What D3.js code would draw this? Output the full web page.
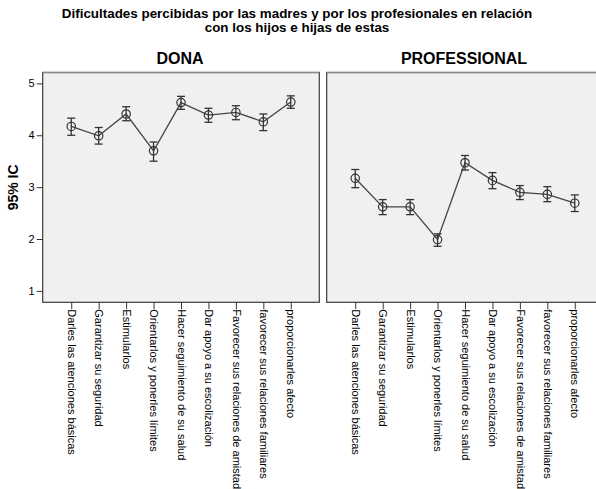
<!DOCTYPE html>
<html>
<head>
<meta charset="utf-8">
<script src="https://cdn.jsdelivr.net/npm/d3@7"></script>
<style>
  html, body { margin: 0; padding: 0; background: #fff; }
  svg { display: block; font-family: "Liberation Sans", Arial, sans-serif; }
</style>
</head>
<body>
<svg id="chart" width="596" height="489"></svg>
<script>
// Items asked about (x axis)
const categories = [
  "Darles las atenciones básicas",
  "Garantizar su seguridad",
  "Estimularlos",
  "Orientarlos y ponerles límites",
  "Hacer seguimiento de su salud",
  "Dar apoyo a su escolización",
  "Favorecer sus relaciones de amistad",
  "favorecer sus relaciones familiares",
  "proporcionarles afecto"
];

// Panels
const groups = ["DONA", "PROFESSIONAL"];

// Means and 95% confidence limits per panel
const donaMean  = [4.17, 3.99, 4.41, 3.70, 4.63, 4.39, 4.44, 4.26, 4.64];
const donaLow   = [4.00, 3.83, 4.28, 3.50, 4.50, 4.25, 4.30, 4.09, 4.52];
const donaHigh  = [4.33, 4.15, 4.55, 3.87, 4.75, 4.52, 4.57, 4.41, 4.76];

const profMean  = [3.17, 2.62, 2.62, 1.99, 3.47, 3.13, 2.90, 2.86, 2.69];
const profLow   = [2.99, 2.47, 2.47, 1.86, 3.33, 2.97, 2.76, 2.72, 2.53];
const profHigh  = [3.34, 2.76, 2.76, 2.10, 3.61, 3.28, 3.03, 3.01, 2.85];

const yTicks = [1, 2, 3, 4, 5];

const title = ["Dificultades percibidas por las madres y por los profesionales en relación",
               "con los hijos e hijas de estas"];
const yLabel = "95% IC";

const panelData = [
  { name: groups[0], mean: donaMean, low: donaLow, high: donaHigh },
  { name: groups[1], mean: profMean, low: profLow, high: profHigh }
];

const svg = d3.select("#chart");

const plotTop = 72.5, plotBottom = 302.3, panelW = 276.6;
const panelX = [42.7, 326.7];

const y = d3.scaleLinear().domain([0.78, 5.21]).range([plotBottom, plotTop]);

// Title, one text element per line
title.forEach((line, i) => {
  svg.append("text")
    .attr("x", 297).attr("y", 18 + i * 14)
    .attr("text-anchor", "middle")
    .attr("font-size", 13.4).attr("font-weight", "bold").attr("fill", "#000")
    .text(line);
});

// Y axis title
svg.append("text")
  .attr("transform", `translate(18,${(plotTop + plotBottom) / 2}) rotate(-90)`)
  .attr("text-anchor", "middle")
  .attr("font-size", 14).attr("font-weight", "bold")
  .text(yLabel);

panelData.forEach((p, pi) => {
  const x0 = panelX[pi];
  const x = d3.scalePoint().domain(categories).range([x0, x0 + panelW]).padding(1.04);
  const g = svg.append("g");

  // Panel header
  g.append("text")
    .attr("x", x0 + panelW / 2 - 1).attr("y", 64)
    .attr("text-anchor", "middle")
    .attr("font-size", 16).attr("font-weight", "bold")
    .text(p.name);

  // Panel background and frame
  g.append("rect")
    .attr("x", x0).attr("y", plotTop)
    .attr("width", panelW).attr("height", plotBottom - plotTop)
    .attr("fill", "#f0f0f0").attr("stroke", "#3c3c3c").attr("stroke-width", 1.2);
  g.append("line")
    .attr("x1", x0).attr("x2", x0 + panelW)
    .attr("y1", plotTop).attr("y2", plotTop)
    .attr("stroke", "#8a8a8a").attr("stroke-width", 1.6);

  // Y axis only on the first panel
  if (pi === 0) {
    const ya = d3.axisLeft(y).tickValues(yTicks).tickSize(6).tickFormat(d3.format("d"));
    const yg = g.append("g").attr("transform", `translate(${x0},0)`).call(ya);
    yg.select(".domain").remove();
    yg.selectAll("line").attr("stroke", "#333");
    yg.selectAll("text").attr("font-size", 11).attr("font-family", "Liberation Sans, Arial, sans-serif").attr("fill", "#000").attr("x", -8);
  }

  // X axis with vertical category labels
  const xa = d3.axisBottom(x).tickSize(7).tickSizeOuter(0);
  const xg = g.append("g").attr("transform", `translate(0,${plotBottom})`).call(xa);
  xg.select(".domain").remove();
  xg.selectAll("line").attr("stroke", "#333");
  xg.selectAll("text")
    .attr("font-size", 11).attr("font-family", "Liberation Sans, Arial, sans-serif").attr("fill", "#000")
    .attr("text-anchor", "start")
    .attr("transform", "rotate(90)")
    .attr("x", 7).attr("y", 0).attr("dy", "0.35em");

  const pts = categories.map((c, i) => ({ c, m: p.mean[i], lo: p.low[i], hi: p.high[i] }));

  // Connecting line
  g.append("path").datum(pts)
    .attr("fill", "none").attr("stroke", "#444").attr("stroke-width", 1.3)
    .attr("d", d3.line().x(d => x(d.c)).y(d => y(d.m)));

  // Error bars
  const eb = g.append("g").attr("stroke", "#333").attr("stroke-width", 1.3);
  pts.forEach(d => {
    const cx = x(d.c);
    eb.append("line").attr("x1", cx).attr("x2", cx).attr("y1", y(d.lo)).attr("y2", y(d.hi));
    eb.append("line").attr("x1", cx - 4).attr("x2", cx + 4).attr("y1", y(d.lo)).attr("y2", y(d.lo));
    eb.append("line").attr("x1", cx - 4).attr("x2", cx + 4).attr("y1", y(d.hi)).attr("y2", y(d.hi));
  });

  // Mean markers
  g.selectAll("circle.m").data(pts).join("circle")
    .attr("class", "m")
    .attr("cx", d => x(d.c)).attr("cy", d => y(d.m)).attr("r", 4.2)
    .attr("fill", "none").attr("stroke", "#333").attr("stroke-width", 1.2);
});
</script>
</body>
</html>
